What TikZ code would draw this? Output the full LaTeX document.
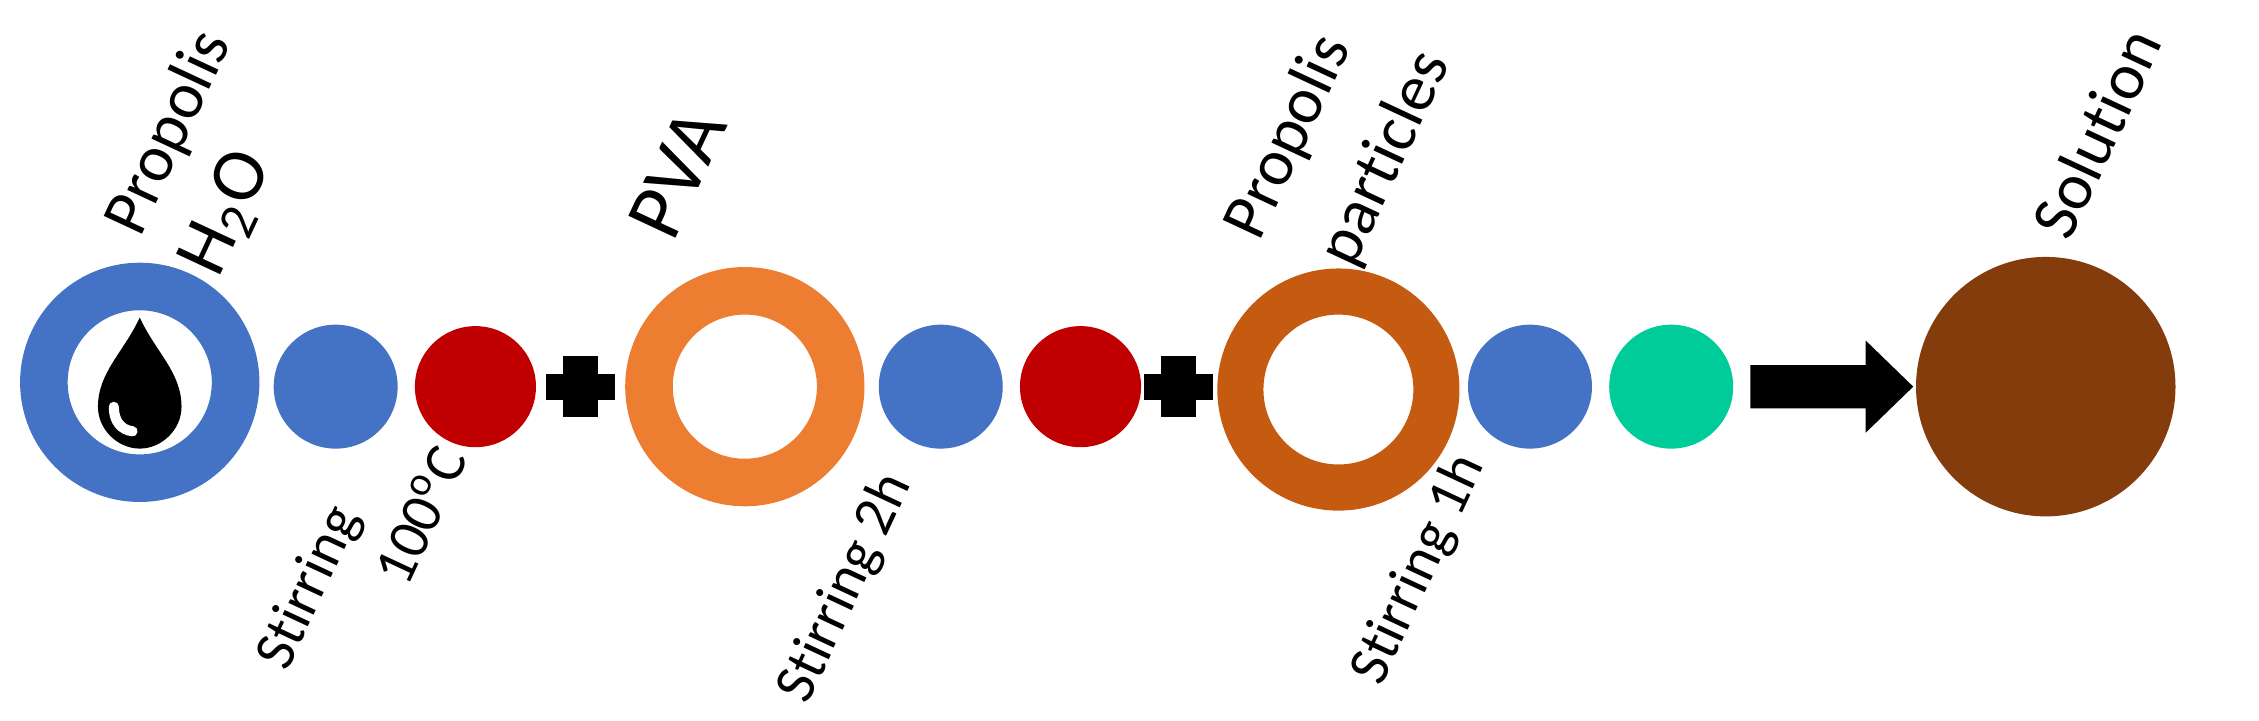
\documentclass[tikz,border=0pt]{standalone}
\usepackage{fontspec}
\setmainfont[RawFeature=-liga]{Carlito}
\definecolor{cblue}{HTML}{4472C4}
\definecolor{cred}{HTML}{C00000}
\definecolor{corange}{HTML}{ED7D31}
\definecolor{cbrown}{HTML}{C55A11}
\definecolor{cdark}{HTML}{843C0C}
\definecolor{cgreen}{HTML}{00CC99}
\begin{document}
\begin{tikzpicture}[x=0.01cm,y=0.01cm,
  lab/.style={rotate=65,font=\fontsize{13}{14}\selectfont,inner sep=0pt},
  lowlab/.style={lab,font=\fontsize{11.5}{12}\selectfont},
  dot/.style={circle,inner sep=0pt,minimum size=0.86cm},
  ring/.style={circle,inner sep=0pt,line width=0.33cm,minimum size=1.33cm}]
\useasboundingbox (0,0) rectangle (1568,500.4);
% rings
\node[ring,draw=cblue] (r1) at (97,235) {};
\node[dot,fill=cblue] (b1) at (233,232) {};
\node[dot,fill=cred,minimum size=0.84cm] (d1) at (330,232) {};
\node[ring,draw=corange] (r2) at (517,232) {};
\node[dot,fill=cblue] (b2) at (653,232) {};
\node[dot,fill=cred,minimum size=0.84cm] (d2) at (750,232) {};
\node[ring,draw=cbrown,line width=0.32cm,minimum size=1.36cm] (r3) at (929,230) {};
\node[dot,fill=cblue] (b3) at (1062,232) {};
\node[dot,fill=cgreen] (g1) at (1160,232) {};
\node[circle,fill=cdark,inner sep=0pt,minimum size=1.8cm] (sol) at (1420,232) {};
% pluses
\foreach \px in {403,818}{
  \fill (\px-24,232-9) rectangle (\px+24,232+9);
  \fill (\px-12,232-21) rectangle (\px+12,232+21);
}
% arrow
\fill (1215,247) -- (1295,247) -- (1295,264) -- (1328,232) -- (1295,200) -- (1295,217) -- (1215,217) -- cycle;
% droplet
\fill (97,280) .. controls (86,256) and (68,242) .. (68,218) .. controls (68,202) and (82,189) .. (97,189)
  .. controls (112,189) and (126,202) .. (126,218) .. controls (126,242) and (108,256) .. (97,280) -- cycle;
\draw[white,line width=2pt,line cap=round] (79,218) .. controls (79,208) and (84,202) .. (92,201);
% labels
\node[lab] (t1) at (118,408) {Propolis};
\node[lab,font=\fontsize{15}{16}\selectfont] (t2) at (158,352) {H\textsubscript{2}O};
\node[lab,font=\fontsize{16}{17}\selectfont] (t3) at (470,380) {PVA};
\node[lab] (t4) at (895,405) {Propolis};
\node[lab] (t5) at (962,390) {particles};
\node[lab] (t6) at (1455,408) {Solution};
\node[lowlab] (t7) at (215,92) {Stirring};
\node[lowlab] (t8) at (291,143) {100\textsuperscript{o}C};
\node[lowlab] (t9) at (587,92) {Stirring 2h};
\node[lowlab] (t10) at (985,105) {Stirring 1h};
\end{tikzpicture}
\end{document}
